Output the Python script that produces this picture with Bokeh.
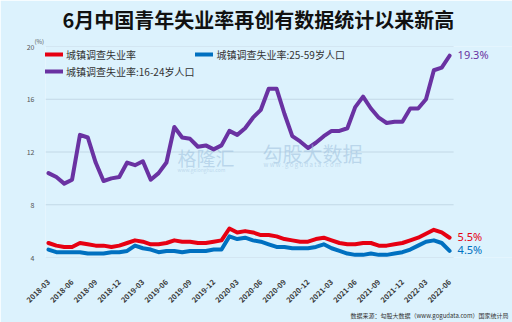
import math
from bokeh.plotting import figure
from bokeh.models import ColumnDataSource, Legend, LegendItem, Label, FixedTicker, Range1d, Title
from bokeh.core.properties import value
from bokeh.embed import file_html
from bokeh.resources import INLINE

months = [
    "2018-03", "2018-04", "2018-05", "2018-06", "2018-07", "2018-08", "2018-09", "2018-10", "2018-11", "2018-12",
    "2019-01", "2019-02", "2019-03", "2019-04", "2019-05", "2019-06", "2019-07", "2019-08", "2019-09", "2019-10",
    "2019-11", "2019-12",
    "2020-01", "2020-02", "2020-03", "2020-04", "2020-05", "2020-06", "2020-07", "2020-08", "2020-09", "2020-10",
    "2020-11", "2020-12",
    "2021-01", "2021-02", "2021-03", "2021-04", "2021-05", "2021-06", "2021-07", "2021-08", "2021-09", "2021-10",
    "2021-11", "2021-12",
    "2022-01", "2022-02", "2022-03", "2022-04", "2022-05", "2022-06",
]
rate_total = [
    5.1, 4.9, 4.8, 4.8, 5.1, 5.0, 4.9, 4.9, 4.8, 4.9,
    5.1, 5.3, 5.2, 5.0, 5.0, 5.1, 5.3, 5.2, 5.2, 5.1, 5.1, 5.2,
    5.3, 6.2, 5.9, 6.0, 5.9, 5.7, 5.7, 5.6, 5.4, 5.3, 5.2, 5.2,
    5.4, 5.5, 5.3, 5.1, 5.0, 5.0, 5.1, 5.1, 4.9, 4.9, 5.0, 5.1,
    5.3, 5.5, 5.8, 6.1, 5.9, 5.5,
]
rate_25_59 = [
    4.6, 4.4, 4.4, 4.4, 4.4, 4.3, 4.3, 4.3, 4.4, 4.4,
    4.5, 4.9, 4.7, 4.6, 4.4, 4.5, 4.5, 4.4, 4.5, 4.5, 4.5, 4.6,
    4.6, 5.6, 5.4, 5.5, 5.3, 5.2, 5.0, 4.8, 4.8, 4.7, 4.7, 4.7,
    4.8, 5.0, 4.7, 4.5, 4.3, 4.2, 4.2, 4.3, 4.2, 4.2, 4.3, 4.4,
    4.6, 4.9, 5.2, 5.3, 5.1, 4.5,
]
rate_16_24 = [
    10.4, 10.1, 9.6, 9.9, 13.3, 13.1, 11.2, 9.8, 10.0, 10.1,
    11.2, 11.0, 11.3, 9.9, 10.4, 11.2, 13.9, 13.1, 13.0, 12.4, 12.5, 12.2,
    12.5, 13.6, 13.3, 13.8, 14.6, 15.2, 16.8, 16.8, 14.9, 13.2, 12.8, 12.3,
    12.7, 13.2, 13.6, 13.6, 13.8, 15.4, 16.2, 15.3, 14.6, 14.2, 14.3, 14.3,
    15.3, 15.3, 16.0, 18.2, 18.4, 19.3,
]
series_names = ["城镇调查失业率", "城镇调查失业率:25-59岁人口", "城镇调查失业率:16-24岁人口"]
y_ticks = [4, 8, 12, 16, 20]
tick_step = 3

BG = "#dcf2fd"
RED = "#e60012"
BLUE = "#0070c0"
PURPLE = "#6a32a2"
GRID = "#c2d8e6"
FONT = "Noto Sans CJK SC"

n = len(months)
last = n - 1
x_lo = -0.38          # left padding of the frame, in months
x_grid_hi = last + 0.51  # where the gridlines stop
x_hi = last + 8.0     # room on the right for the end labels

x = list(range(n))
src = ColumnDataSource(dict(x=x, total=rate_total, a25=rate_25_59, a16=rate_16_24))

p = figure(width=512, height=322, x_range=Range1d(x_lo, x_hi), y_range=Range1d(y_ticks[0], y_ticks[-1]),
           output_backend="svg", toolbar_location=None,
           min_border_left=45, min_border_right=0, min_border_top=46, min_border_bottom=65,
           background_fill_color=BG, border_fill_color=BG, outline_line_color=None)

# titles (outermost first = main title)
p.title.text = "6月中国青年失业率再创有数据统计以来新高"
p.title.text_font = FONT
p.title.text_font_size = "20px"
p.title.text_font_style = "bold"
p.title.text_color = "#111111"
p.title.align = "left"
p.title.offset = 17
p.title.standoff = 2
p.add_layout(Title(text="(%)", text_font=FONT, text_font_size="6px", text_font_style="normal",
                   text_color="#555555", align="left", offset=-11, standoff=1), "above")
p.add_layout(Title(text="数据来源：勾股大数据（www.gogudata.com）国家统计局", text_font=FONT,
                   text_font_size="6px", text_font_style="normal", text_color="#333333",
                   align="right", offset=4, standoff=1), "below")

# gridlines limited to the data region
p.xgrid.visible = False
p.ygrid.visible = False
p.segment(x0=[x_lo] * len(y_ticks), x1=[x_grid_hi] * len(y_ticks), y0=y_ticks, y1=y_ticks,
          line_color=GRID, line_width=1)

p.yaxis.ticker = FixedTicker(ticks=y_ticks)
p.yaxis.axis_line_color = None
p.yaxis.major_tick_line_color = None
p.yaxis.minor_tick_line_color = None
p.yaxis.major_label_text_font = FONT
p.yaxis.major_label_text_font_size = "7px"
p.yaxis.major_label_text_color = "#555555"
p.yaxis.major_label_standoff = 5

xt = list(range(0, n, tick_step))
p.xaxis.ticker = FixedTicker(ticks=xt)
p.xaxis.major_label_overrides = {i: months[i] for i in xt}
p.xaxis.major_label_orientation = math.pi / 4
p.xaxis.axis_line_color = None
p.xaxis.major_tick_line_color = None
p.xaxis.minor_tick_line_color = None
p.xaxis.major_label_text_font = FONT
p.xaxis.major_label_text_font_size = "7.5px"
p.xaxis.major_label_text_font_style = "bold"
p.xaxis.major_label_text_color = "#3a3a3a"
p.xaxis.major_label_standoff = 17

# watermarks
for txt, xx, yy, size in [("格隆汇", 132, 100, "19px"), ("www.gelonghui.com", 132, 88, "5px"),
                          ("勾股大数据", 217, 104, "20px"), ("w w w . g o g u d a t a . c o m", 218, 93, "6px")]:
    p.add_layout(Label(x=xx, y=yy, x_units="screen", y_units="screen", text=txt, text_font=FONT,
                       text_font_size=size, text_color="#9dbfdc", text_alpha=0.55, text_baseline="middle"))

kw = dict(source=src, line_width=4, line_join="round", line_cap="round")
r1 = p.line("x", "total", color=RED, **kw)
r2 = p.line("x", "a25", color=BLUE, **kw)
r3 = p.line("x", "a16", color=PURPLE, **kw)

end_src = ColumnDataSource(dict(x=[last] * 3, y=[rate_total[-1], rate_25_59[-1], rate_16_24[-1]],
                                t=[f"{rate_total[-1]:.1f}%", f"{rate_25_59[-1]:.1f}%", f"{rate_16_24[-1]:.1f}%"],
                                c=[RED, BLUE, PURPLE]))
p.text(x="x", y="y", text="t", text_color="c", source=end_src, x_offset=8, y_offset=-1,
       text_baseline="middle", text_font=value("Noto Sans"), text_font_size="11px")

legend = Legend(items=[LegendItem(label=series_names[0], renderers=[r1]),
                       LegendItem(label=series_names[1], renderers=[r2]),
                       LegendItem(label=series_names[2], renderers=[r3])],
                location="top_left", orientation="horizontal", ncols=2,
                glyph_width=18, glyph_height=16, label_height=16, label_width=128,
                label_standoff=3, spacing=1, padding=0, margin=0,
                label_text_font=FONT, label_text_font_size="10px", label_text_color="#333333",
                background_fill_alpha=0, border_line_alpha=0)
p.add_layout(legend)

open("out.html", "w").write(file_html(p, INLINE))
